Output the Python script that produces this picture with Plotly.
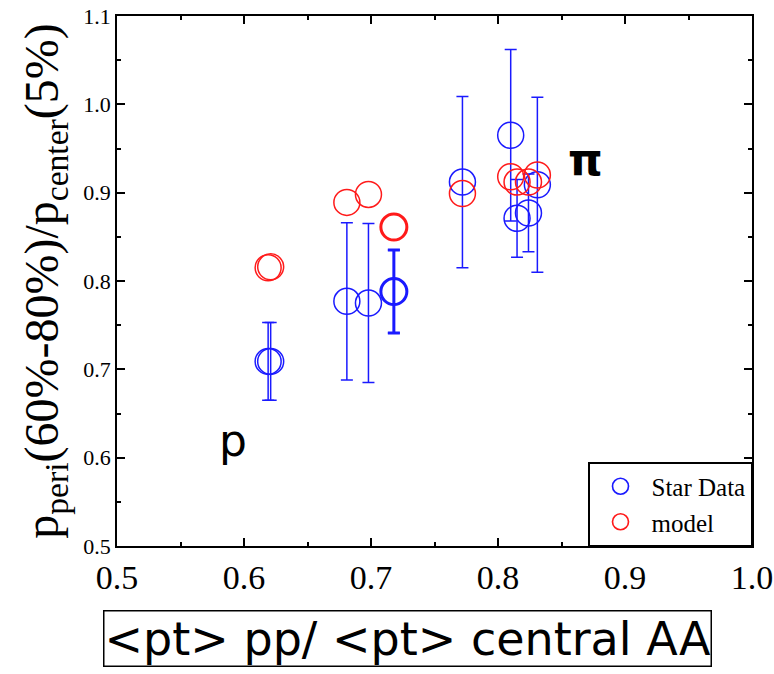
import plotly.graph_objects as go

# Star data
star_x = [0.619, 0.621, 0.681, 0.698, 0.718, 0.772, 0.810, 0.815, 0.824, 0.831]
star_y = [0.709, 0.709, 0.777, 0.775, 0.788, 0.912, 0.965, 0.871, 0.877, 0.909]
star_err = [0.044, 0.044, 0.089, 0.090, 0.047, 0.097, 0.097, 0.044, 0.044, 0.099]
star_bold = [False, False, False, False, True, False, False, False, False, False]

# model
model_x = [0.619, 0.621, 0.681, 0.698, 0.718, 0.772, 0.810, 0.815, 0.824, 0.831]
model_y = [0.815, 0.816, 0.889, 0.898, 0.861, 0.899, 0.918, 0.912, 0.912, 0.920]
model_bold = [False, False, False, False, True, False, False, False, False, False]

x_ticks = [0.5, 0.6, 0.7, 0.8, 0.9, 1.0]
y_ticks = [0.5, 0.6, 0.7, 0.8, 0.9, 1.0, 1.1]

BLUE = "#1a1aff"
RED = "#ff1a1a"

fig = go.Figure()

fig.add_trace(go.Scatter(
    x=star_x, y=star_y, mode="markers", name="Star Data",
    marker=dict(symbol="circle-open", size=26, color=BLUE,
                line=dict(color=BLUE, width=[3 if b else 1.5 for b in star_bold])),
    error_y=dict(type="data", array=star_err, visible=True, color=BLUE, thickness=1.5, width=6),
))
bx = [x for x, b in zip(star_x, star_bold) if b]
by = [y for y, b in zip(star_y, star_bold) if b]
be = [e for e, b in zip(star_err, star_bold) if b]
fig.add_trace(go.Scatter(
    x=bx, y=by, mode="markers", showlegend=False,
    marker=dict(size=1, color="rgba(0,0,0,0)"),
    error_y=dict(type="data", array=be, visible=True, color=BLUE, thickness=3, width=6),
))
fig.add_trace(go.Scatter(
    x=model_x, y=model_y, mode="markers", name="model",
    marker=dict(symbol="circle-open", size=26, color=RED,
                line=dict(color=RED, width=[3 if b else 1.5 for b in model_bold])),
))

fig.add_annotation(x=0.591, y=0.62, text="p", showarrow=False,
                   font=dict(family="DejaVu Sans", size=44, color="black"))
fig.add_annotation(x=0.8685, y=0.937, text="<b>π</b>", showarrow=False,
                   font=dict(family="DejaVu Sans", size=44, color="black"))

fig.add_annotation(xref="paper", yref="paper", x=0.458, y=-0.175,
                   xanchor="center", yanchor="middle",
                   text="&lt;pt&gt; pp/ &lt;pt&gt; central AA", showarrow=False,
                   font=dict(family="DejaVu Sans", size=46, color="black"),
                   bordercolor="black", borderwidth=1.5, borderpad=0, bgcolor="white")

axis_common = dict(showgrid=False, zeroline=False, showline=True, linecolor="black",
                   linewidth=1.5, mirror="ticks", ticks="inside", ticklen=8,
                   tickwidth=1.5, tickcolor="black")

fig.update_layout(
    width=774, height=674,
    margin=dict(l=117, r=22, t=16, b=128),
    plot_bgcolor="white", paper_bgcolor="white",
    showlegend=True,
    legend=dict(x=1, y=0, xanchor="right", yanchor="bottom",
                bordercolor="black", borderwidth=1.5, bgcolor="white",
                font=dict(family="Liberation Serif", size=25, color="black"),
                itemwidth=52),
    xaxis=dict(range=[0.5, 1.0], tickvals=x_ticks, ticktext=[f"{v:.1f}" for v in x_ticks],
               tickfont=dict(family="Liberation Serif", size=34, color="black"),
               minor=dict(ticks="inside", dtick=0.05, ticklen=4, tickcolor="black", tickwidth=1.5),
               automargin=False,
               **axis_common),
    yaxis=dict(range=[0.5, 1.1], tickvals=y_ticks, ticktext=[f"{v:.1f}" for v in y_ticks],
               tickfont=dict(family="Liberation Serif", size=22, color="black"),
               minor=dict(ticks="inside", dtick=0.05, ticklen=4, tickcolor="black", tickwidth=1.5),
               title=dict(text="p<sub>peri</sub>(60%-80%)/p<sub>center</sub>(5%)",
                          font=dict(family="Liberation Serif", size=48, color="black"),
                          standoff=10),
               automargin=False,
               **axis_common),
)

fig.write_html("out.html")
